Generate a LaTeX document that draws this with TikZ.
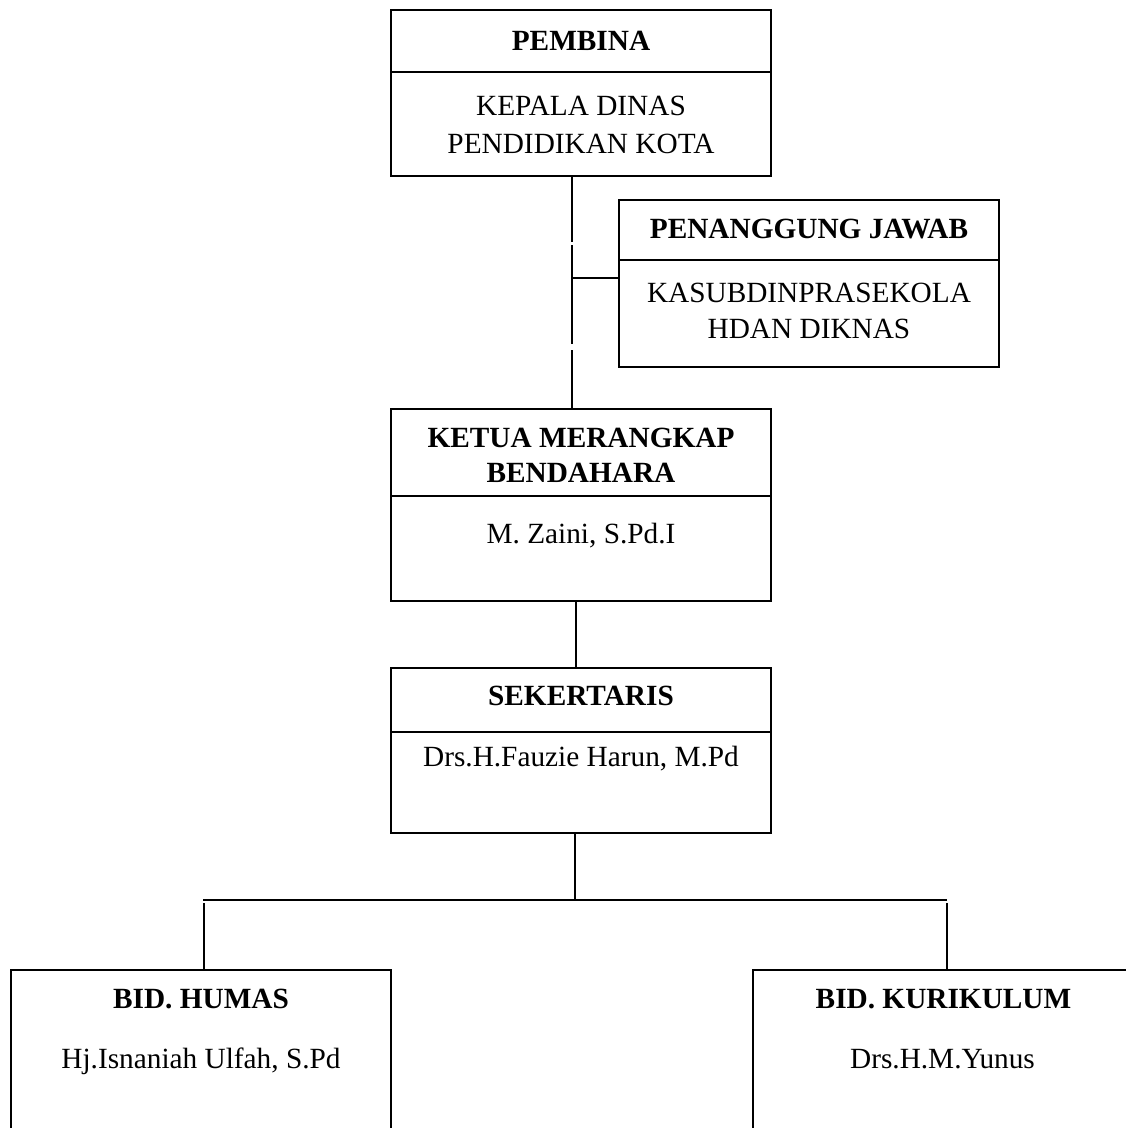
\documentclass[tikz,border=0pt]{standalone}
\usepackage{fontspec}
\setmainfont{Liberation Serif}
\begin{document}
\begin{tikzpicture}[x=1pt,y=-1pt,
  box/.style={draw,line width=2pt,inner sep=0pt,minimum width=380pt},
  ln/.style={line width=2pt},
  ttl/.style={font=\fontsize{29.3}{36}\selectfont\bfseries,inner sep=0pt,anchor=base},
  txt/.style={font=\fontsize{29.3}{36}\selectfont,inner sep=0pt,anchor=base}]
\useasboundingbox (0,0) rectangle (1126,1128);
\clip (0,0) rectangle (1126,1128);
% boxes
\node[box,minimum height=166pt] (pem) at (581,93) {};
\node[box,minimum height=167pt] (pj) at (809,283.5) {};
\node[box,minimum height=192pt] (ket) at (581,505) {};
\node[box,minimum height=165pt] (sek) at (581,750.5) {};
\node[box,minimum height=240pt] (hum) at (201,1090) {};
\node[box,minimum height=240pt] (kur) at (943,1090) {};
% dividers
\draw[ln] (pem.west |- 0,72) -- (pem.east |- 0,72);
\draw[ln] (pj.west |- 0,260) -- (pj.east |- 0,260);
\draw[ln] (ket.west |- 0,496) -- (ket.east |- 0,496);
\draw[ln] (sek.west |- 0,732) -- (sek.east |- 0,732);
% texts
\node[ttl] (t1) at (581,50) {PEMBINA};
\node[txt] (t2a) at (581,115) {KEPALA DINAS};
\node[txt] (t2b) at (581,153) {PENDIDIKAN KOTA};
\node[ttl] (t3) at (809,238) {PENANGGUNG JAWAB};
\node[txt] (t4a) at (809,302) {KASUBDINPRASEKOLA};
\node[txt] (t4b) at (809,338) {HDAN DIKNAS};
\node[ttl] (t5a) at (581,447) {KETUA MERANGKAP};
\node[ttl] (t5b) at (581,482) {BENDAHARA};
\node[txt] (t6) at (581,543) {M. Zaini, S.Pd.I};
\node[ttl] (t7) at (581,705) {SEKERTARIS};
\node[txt] (t8) at (581,766) {Drs.H.Fauzie Harun, M.Pd};
\node[ttl] (t9) at (201,1008) {BID. HUMAS};
\node[txt] (t10) at (201,1068) {Hj.Isnaniah Ulfah, S.Pd};
\node[ttl] (t11) at (943.5,1008) {BID. KURIKULUM};
\node[txt] (t12) at (942.5,1068) {Drs.H.M.Yunus};
% connectors
\coordinate (g1) at (572,242);
\coordinate (g2) at (572,245);
\coordinate (g3) at (572,344);
\coordinate (g4) at (572,350);
\coordinate (j) at (572,278);
\draw[ln] (pem.south -| 572,0) -- (g1);
\draw[ln] (g2) -- (g3);
\draw[ln] (g4) -- (ket.north -| 572,0);
\draw[ln] (j) -- (pj.west |- j);
\draw[ln] (ket.south -| 576,0) -- (sek.north -| 576,0);
\coordinate (b) at (575,900);
\coordinate (bl) at (203,900);
\coordinate (br) at (947,900);
\draw[ln] (sek.south -| b) -- (b);
\draw[ln] (bl) -- (br);
\draw[ln] (204,903) -- (hum.north -| 204,0);
\draw[ln] (947,903) -- (kur.north -| 947,0);
\end{tikzpicture}
\end{document}
